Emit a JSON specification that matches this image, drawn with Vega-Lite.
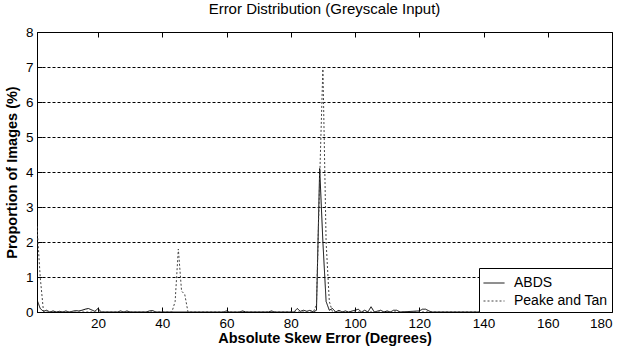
{
  "$schema": "https://vega.github.io/schema/vega-lite/v6.json",
  "width": 575,
  "height": 280,
  "autosize": {"type": "none"},
  "padding": {"left": 37, "top": 32, "right": 20, "bottom": 39},
  "background": "white",
  "title": {"text": "Error Distribution (Greyscale Input)", "font": "Liberation Sans", "fontSize": 15, "fontWeight": "normal", "color": "black", "offset": 8},
  "config": {
    "view": {"stroke": "black", "strokeWidth": 1},
    "axis": {"labelFont": "Liberation Sans", "labelFontSize": 13.5, "labelColor": "black", "titleFont": "Liberation Sans", "titleFontSize": 14.5, "titleFontWeight": "bold", "titleColor": "black", "domainColor": "black", "tickColor": "black"}
  },
  "data": {"values": [
    {"x": 1, "y": 0.35, "s": "ABDS"}, {"x": 2, "y": 0.1, "s": "ABDS"}, {"x": 3, "y": 0.02, "s": "ABDS"}, {"x": 4, "y": 0.05, "s": "ABDS"}, {"x": 5, "y": 0, "s": "ABDS"}, {"x": 6, "y": 0.03, "s": "ABDS"}, {"x": 7, "y": 0, "s": "ABDS"}, {"x": 8, "y": 0.02, "s": "ABDS"}, {"x": 9, "y": 0, "s": "ABDS"}, {"x": 10, "y": 0.03, "s": "ABDS"}, {"x": 11, "y": 0, "s": "ABDS"}, {"x": 12, "y": 0.02, "s": "ABDS"}, {"x": 13, "y": 0.04, "s": "ABDS"}, {"x": 14, "y": 0.03, "s": "ABDS"}, {"x": 15, "y": 0.05, "s": "ABDS"}, {"x": 16, "y": 0.08, "s": "ABDS"}, {"x": 17, "y": 0.1, "s": "ABDS"}, {"x": 18, "y": 0.06, "s": "ABDS"}, {"x": 19, "y": 0.02, "s": "ABDS"}, {"x": 20, "y": 0.1, "s": "ABDS"}, {"x": 21, "y": 0, "s": "ABDS"}, {"x": 26, "y": 0, "s": "ABDS"}, {"x": 27, "y": 0.03, "s": "ABDS"}, {"x": 28, "y": 0, "s": "ABDS"}, {"x": 29, "y": 0.03, "s": "ABDS"}, {"x": 30, "y": 0, "s": "ABDS"}, {"x": 35, "y": 0, "s": "ABDS"}, {"x": 36, "y": 0.03, "s": "ABDS"}, {"x": 37, "y": 0.04, "s": "ABDS"}, {"x": 38, "y": 0, "s": "ABDS"}, {"x": 59, "y": 0, "s": "ABDS"}, {"x": 60, "y": 0.03, "s": "ABDS"}, {"x": 61, "y": 0, "s": "ABDS"}, {"x": 64, "y": 0, "s": "ABDS"}, {"x": 65, "y": 0.03, "s": "ABDS"}, {"x": 66, "y": 0, "s": "ABDS"}, {"x": 73, "y": 0, "s": "ABDS"}, {"x": 74, "y": 0.03, "s": "ABDS"}, {"x": 75, "y": 0, "s": "ABDS"}, {"x": 81, "y": 0, "s": "ABDS"}, {"x": 82, "y": 0.1, "s": "ABDS"}, {"x": 83, "y": 0.02, "s": "ABDS"}, {"x": 84, "y": 0.05, "s": "ABDS"}, {"x": 85, "y": 0.02, "s": "ABDS"}, {"x": 86, "y": 0.05, "s": "ABDS"}, {"x": 87, "y": 0, "s": "ABDS"}, {"x": 88, "y": 0.05, "s": "ABDS"}, {"x": 89, "y": 4.1, "s": "ABDS"}, {"x": 90, "y": 2.0, "s": "ABDS"}, {"x": 91, "y": 0.3, "s": "ABDS"}, {"x": 92, "y": 0.05, "s": "ABDS"}, {"x": 93, "y": 0.1, "s": "ABDS"}, {"x": 94, "y": 0, "s": "ABDS"}, {"x": 95, "y": 0.05, "s": "ABDS"}, {"x": 96, "y": 0, "s": "ABDS"}, {"x": 97, "y": 0.03, "s": "ABDS"}, {"x": 98, "y": 0, "s": "ABDS"}, {"x": 100, "y": 0.05, "s": "ABDS"}, {"x": 101, "y": 0.08, "s": "ABDS"}, {"x": 102, "y": 0, "s": "ABDS"}, {"x": 103, "y": 0.05, "s": "ABDS"}, {"x": 104, "y": 0, "s": "ABDS"}, {"x": 105, "y": 0.15, "s": "ABDS"}, {"x": 106, "y": 0, "s": "ABDS"}, {"x": 108, "y": 0.05, "s": "ABDS"}, {"x": 109, "y": 0, "s": "ABDS"}, {"x": 110, "y": 0.03, "s": "ABDS"}, {"x": 111, "y": 0, "s": "ABDS"}, {"x": 112, "y": 0.05, "s": "ABDS"}, {"x": 113, "y": 0.05, "s": "ABDS"}, {"x": 114, "y": 0, "s": "ABDS"}, {"x": 120, "y": 0.03, "s": "ABDS"}, {"x": 121, "y": 0.08, "s": "ABDS"}, {"x": 122, "y": 0.08, "s": "ABDS"}, {"x": 123, "y": 0.03, "s": "ABDS"}, {"x": 124, "y": 0, "s": "ABDS"}, {"x": 180, "y": 0, "s": "ABDS"},
    {"x": 1, "y": 2.45, "s": "Peake and Tan"}, {"x": 2, "y": 1.0, "s": "Peake and Tan"}, {"x": 3, "y": 0.03, "s": "Peake and Tan"}, {"x": 4, "y": 0, "s": "Peake and Tan"}, {"x": 43, "y": 0, "s": "Peake and Tan"}, {"x": 44, "y": 0.3, "s": "Peake and Tan"}, {"x": 45, "y": 1.8, "s": "Peake and Tan"}, {"x": 46, "y": 0.6, "s": "Peake and Tan"}, {"x": 47, "y": 0.5, "s": "Peake and Tan"}, {"x": 48, "y": 0, "s": "Peake and Tan"}, {"x": 87, "y": 0, "s": "Peake and Tan"}, {"x": 88, "y": 0.2, "s": "Peake and Tan"}, {"x": 89, "y": 3.8, "s": "Peake and Tan"}, {"x": 90, "y": 7.0, "s": "Peake and Tan"}, {"x": 91, "y": 2.0, "s": "Peake and Tan"}, {"x": 92, "y": 0.3, "s": "Peake and Tan"}, {"x": 93, "y": 0, "s": "Peake and Tan"}, {"x": 180, "y": 0, "s": "Peake and Tan"}
  ]},
  "layer": [
    {
      "mark": {"type": "line", "strokeWidth": 1, "clip": true},
      "encoding": {
        "x": {"field": "x", "type": "quantitative", "scale": {"domain": [1, 180], "nice": false, "zero": false}, "axis": {"values": [20, 40, 60, 80, 100, 120, 140, 160, 180], "grid": false, "tickSize": -5, "labelPadding": 9, "title": "Absolute Skew Error (Degrees)", "titlePadding": 2}},
        "y": {"field": "y", "type": "quantitative", "scale": {"domain": [0, 8], "nice": false}, "axis": {"values": [0, 1, 2, 3, 4, 5, 6, 7, 8], "grid": true, "gridColor": "black", "gridDash": [3, 2], "gridOpacity": 1, "tickSize": -5, "labelPadding": 9, "title": "Proportion of Images (%)", "titlePadding": 6}},
        "color": {"field": "s", "type": "nominal", "scale": {"range": ["black", "#444444"]}, "legend": {"title": null, "orient": "bottom-right", "offset": 0, "symbolType": "stroke", "symbolSize": 441, "symbolStrokeWidth": 1, "labelFont": "Liberation Sans", "labelFontSize": 14, "labelColor": "black", "labelOffset": 9, "strokeColor": "black", "fillColor": "white", "padding": 4, "rowPadding": 0, "labelLimit": 200}},
        "strokeDash": {"field": "s", "type": "nominal", "scale": {"range": [[1, 0], [2, 2]]}, "legend": null}
      }
    },
    {
      "mark": {"type": "point", "opacity": 0},
      "encoding": {
        "x": {"field": "x", "type": "quantitative", "axis": {"orient": "top", "values": [20, 40, 60, 80, 100, 120, 140, 160, 180], "labels": false, "domain": false, "grid": false, "tickSize": -5, "title": null}},
        "y": {"field": "y", "type": "quantitative", "axis": {"orient": "right", "values": [0, 1, 2, 3, 4, 5, 6, 7, 8], "labels": false, "domain": false, "grid": false, "tickSize": -5, "title": null}}
      }
    }
  ],
  "resolve": {"axis": {"x": "independent", "y": "independent"}}
}
